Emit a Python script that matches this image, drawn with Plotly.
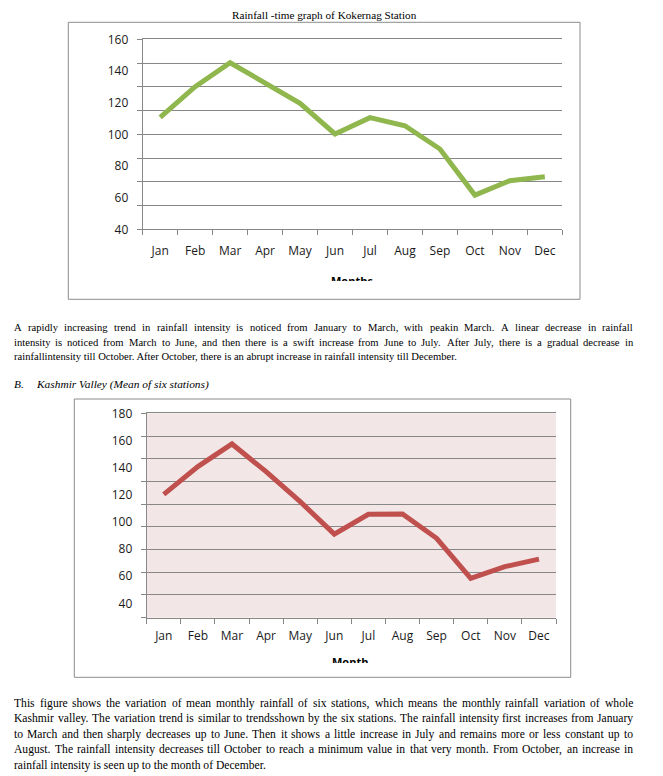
import plotly.graph_objects as go

W, H = 663, 776
OX, OY = 8, 8  # page body margin of the html page

months = ["Jan", "Feb", "Mar", "Apr", "May", "Jun", "Jul", "Aug", "Sep", "Oct", "Nov", "Dec"]
kokernag_rain = [110.7, 130.1, 145.2, 132.2, 119.6, 100.2, 110.5, 105.4, 90.7, 61.6, 70.7, 73.2]
valley_rain = [120.3, 140.7, 157.4, 137.0, 114.9, 91.0, 105.6, 105.8, 87.9, 58.4, 67.0, 72.6]
y1_ticks = [40, 60, 80, 100, 120, 140, 160]
y2_ticks = [40, 60, 80, 100, 120, 140, 160, 180]

title1 = "Rainfall -time graph of Kokernag Station"
para1 = [
    "A rapidly increasing trend in rainfall intensity is noticed from January to March, with peakin March. A linear decrease in rainfall",
    "intensity is noticed from March to June, and then there is a swift increase from June to July. After July, there is a gradual decrease in",
    "rainfallintensity till October. After October, there is an abrupt increase in rainfall intensity till December.",
]
section_b = ("B.", "Kashmir Valley (Mean of six stations)")
para2 = [
    "This figure shows the variation of mean monthly rainfall of six stations, which means the monthly rainfall variation of whole",
    "Kashmir valley. The variation trend is similar to trendsshown by the six stations. The rainfall intensity first increases from January",
    "to March and then sharply decreases up to June. Then it shows a little increase in July and remains more or less constant up to",
    "August. The rainfall intensity decreases till October to reach a minimum value in that very month. From October, an increase in",
    "rainfall intensity is seen up to the month of December.",
]
xtitle1 = "Months"
xtitle2 = "Month"


def px(x):
    return (x - OX) / W


def py(y):
    return 1 - (y - OY) / H


# Times / Liberation Serif advance widths (1/1000 em) used to justify paragraph lines
_TW = {' ': 250, '!': 333, '"': 408, '%': 833, '&': 778, "'": 333, '(': 333, ')': 333, ',': 250,
       '-': 333, '.': 250, '/': 278, ':': 278, ';': 278, '?': 444,
       'A': 722, 'B': 667, 'C': 667, 'D': 722, 'E': 611, 'F': 556, 'G': 722, 'H': 722, 'I': 333,
       'J': 389, 'K': 722, 'L': 611, 'M': 889, 'N': 722, 'O': 722, 'P': 556, 'Q': 722, 'R': 667,
       'S': 556, 'T': 611, 'U': 722, 'V': 722, 'W': 944, 'X': 722, 'Y': 722, 'Z': 611,
       'a': 444, 'b': 500, 'c': 444, 'd': 500, 'e': 444, 'f': 333, 'g': 500, 'h': 500, 'i': 278,
       'j': 278, 'k': 500, 'l': 278, 'm': 778, 'n': 500, 'o': 500, 'p': 500, 'q': 500, 'r': 333,
       's': 389, 't': 278, 'u': 500, 'v': 500, 'w': 722, 'x': 500, 'y': 500, 'z': 444}


def tw(s, size):
    return sum(_TW.get(c, 500) for c in s) * size / 1000.0


idx = list(range(len(months)))
GRID = "#878787"
TICKFONT = dict(family="Open Sans", size=12, color="#1a1a1a")
SERIF = "Liberation Serif"

fig = go.Figure()
fig.add_trace(go.Scatter(x=idx, y=kokernag_rain, mode="lines",
                         line=dict(color="#8FB74E", width=5),
                         xaxis="x", yaxis="y", showlegend=False, hoverinfo="skip"))
fig.add_trace(go.Scatter(x=idx, y=valley_rain, mode="lines",
                         line=dict(color="#C0504D", width=5),
                         xaxis="x2", yaxis="y2", showlegend=False, hoverinfo="skip"))


def xaxis_cfg(domain, anchor, standoff):
    return dict(domain=domain, anchor=anchor, range=[-0.5, 11.5],
                tickmode="array", tickvals=idx, ticktext=months, ticks="",
                showgrid=False, zeroline=False, showline=True, mirror=True,
                linecolor=GRID, linewidth=1, automargin=False,
                minor=dict(tickmode="linear", tick0=-0.5, dtick=1, ticks="outside",
                           ticklen=5, tickcolor=GRID, tickwidth=1, showgrid=False),
                tickfont=TICKFONT, ticklabelstandoff=standoff, fixedrange=True)


y2_lo, y2_hi = 29.4, 180.0
fig.update_layout(
    width=W, height=H, margin=dict(l=0, r=0, t=0, b=0, pad=0, autoexpand=False),
    paper_bgcolor="white", plot_bgcolor="rgba(0,0,0,0)",
    xaxis=xaxis_cfg([px(142.7), px(562.3)], "y", 10),
    xaxis2=xaxis_cfg([px(146.7), px(556.0)], "y2", 7),
    yaxis=dict(domain=[py(229.3), py(39.3)], anchor="x", range=[40, 160.001],
               tickmode="array", tickvals=y1_ticks, ticks="", showgrid=False, zeroline=False,
               showline=True, linecolor=GRID, linewidth=1, automargin=False,
               minor=dict(tickmode="linear", tick0=40, dtick=15, ticks="outside", ticklen=5,
                          tickcolor=GRID, showgrid=True, gridcolor=GRID, gridwidth=1),
               tickfont=TICKFONT, ticklabelstandoff=11, fixedrange=True),
    yaxis2=dict(domain=[py(617.7), py(413.3)], anchor="x2", range=[y2_lo, y2_hi + 0.001],
                tickmode="array", tickvals=y2_ticks, ticks="", showgrid=False, zeroline=False,
                showline=True, linecolor=GRID, linewidth=1, automargin=False,
                minor=dict(tickmode="linear", tick0=y2_lo, dtick=(y2_hi - y2_lo) / 9, ticks="outside",
                           ticklen=5, tickcolor=GRID, showgrid=True, gridcolor=GRID, gridwidth=1),
                tickfont=TICKFONT, ticklabelstandoff=11, fixedrange=True),
)

shapes = [
    dict(type="rect", xref="paper", yref="paper", x0=px(68.3), x1=px(580), y0=py(22.3), y1=py(299.3),
         line=dict(color="#8C8C8C", width=1), fillcolor="rgba(0,0,0,0)", layer="below"),
    dict(type="rect", xref="paper", yref="paper", x0=px(74.3), x1=px(570.7), y0=py(399), y1=py(677.3),
         line=dict(color="#8C8C8C", width=1), fillcolor="rgba(0,0,0,0)", layer="below"),
    dict(type="rect", xref="x2 domain", yref="y2 domain", x0=0, x1=1, y0=0, y1=1,
         line=dict(width=0), fillcolor="#F2E6E6", layer="below"),
]
fig.update_layout(shapes=shapes)

ann = []


def text(x, y, s, size=11.5, anchor="left", family=SERIF, bold=False, yanchor="middle"):
    if bold:
        s = "<b>" + s + "</b>"
    ann.append(dict(x=px(x), y=py(y), xref="paper", yref="paper", text=s, showarrow=False,
                    xanchor=anchor, yanchor=yanchor, borderpad=0,
                    font=dict(family=family, size=size, color="black")))


def paragraph(lines, left, right, top, step, size):
    for i, line in enumerate(lines):
        y = top + i * step
        if i == len(lines) - 1:
            text(left, y, line, size=size)
            continue
        words = line.split(" ")
        widths = [tw(w, size) for w in words]
        gap = (right - left - sum(widths)) / (len(words) - 1)
        x = left
        for w, wd in zip(words, widths):
            text(x, y, w, size=size)
            x += wd + gap


text(324, 8.0, title1, size=11.2, anchor="center", yanchor="top")
paragraph(para1, 13, 632, 327, 15, 10.6)
text(13, 384, "<i>" + section_b[0] + "</i>", size=11.4)
text(35, 384, "<i>" + section_b[1] + "</i>", size=11.4)
paragraph(para2, 13, 632, 703, 15.5, 11.6)

# axis titles, clipped at the bottom like the reference
text(352, 280, xtitle1, size=11, anchor="center", family="Open Sans", bold=True)
text(350, 661, xtitle2, size=11, anchor="center", family="Open Sans", bold=True)
for cx, top in [(352, 280.5), (350, 662.5)]:
    ann.append(dict(x=px(cx), y=py(top), xref="paper", yref="paper", text=" ", showarrow=False,
                    xanchor="center", yanchor="top", width=70, height=12, bgcolor="white",
                    borderpad=0, borderwidth=0, font=dict(size=6)))

fig.update_layout(annotations=ann)
fig.write_html("out.html")
